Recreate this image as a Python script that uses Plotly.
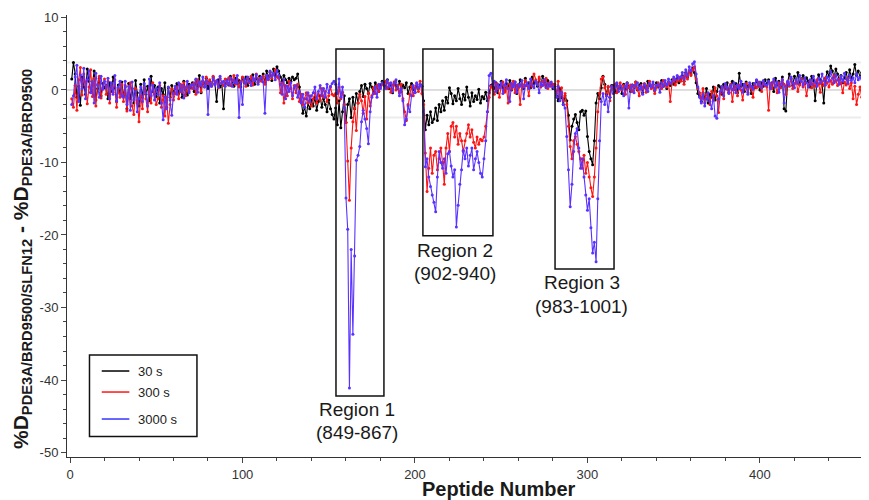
import plotly.graph_objects as go

# ---------------- data ----------------
SERIES_NAMES = ["30 s", "300 s", "3000 s"]
SERIES_COLORS = ["#000000", "#ff1414", "#5a32ff"]
LEGEND_COLORS = ["#000000", "#ff1414", "#3535ff"]

# first peptide number of each consecutive data segment
SEGMENT_STARTS = [1, 154, 182, 204, 245, 281, 315, 354, 365, 377, 404]

d30 = [
    [1.5, 3.8, 2.2, -1.0, 0.5, -2.1, 1.8, 0.4, -0.6, 2.9,
     1.2, -0.3, 0.8, 2.6, -1.4, 0.2, 1.6, -0.8, 0.9, 0.3,
     0.6, -1.2, 1.0, -0.2, 1.8, 0.3, -1.6, 0.7, -0.5, 1.1,
     -0.8, 0.4, -2.6, 0.9, -1.2, 0.2, -1.8, 1.3, -0.4, -2.2,
     0.8, -1.0, 1.4, -0.6, 0.5, -1.5, 1.9, -0.2, 0.6, -0.9,
     0.4, -1.8, 0.2, -0.6, 1.0, -2.4, 0.3, -1.0, 0.6, -0.3,
     0.2, 0.9, -0.5, 0.6, -1.0, 1.2, 0.0, -0.7, 0.8, 0.3,
     1.0, -0.2, 1.4, 0.5, 2.0, -0.4, 1.2, 0.8, 1.6, 0.2,
     1.2, 0.6, 1.8, 0.9, -1.6, 1.4, 0.4, 1.0, -2.6, 0.8,
     1.4, 0.7, 1.9, 1.1, 0.5, 1.6, 0.9, 1.3, 0.4, 1.7,
     1.0, 1.8, 0.6, 1.5, 1.2, 2.1, 0.8, 1.6, 1.1, 1.9,
     1.5, 2.2, 1.0, 2.6, 1.8, 2.4, 1.3, 2.9, 2.0, 3.2,
     2.6, 1.8, 1.2, 2.0, 1.4, 1.0, 1.6, 1.2, 1.8, 1.4,
     1.6, 2.2, 0.4, -1.6, -3.2, -2.4, -3.6, -1.8, -2.6, -1.4,
     -2.2, -1.0, -2.8, -1.6, -0.8, -2.4, -1.2, -2.0, -3.0, -1.4, -2.6, -3.4, -4.0],
    [-2.5, -4.8, -1.5, -5.2, -3.0, -0.8, -4.5, -2.0, -1.2, -3.8, -1.0, -2.6, -0.5, -1.8,
     -0.2, 0.6, -0.9, 0.8, 0.2, -0.5, 0.9, 0.4, -0.3, 1.0, 0.5, -0.2, 0.7, 1.2],
    [1.0, 0.4, 1.4, 0.2, 0.8, -0.4, 1.1, 0.6, 0.2, 1.2, -0.2, 0.7, 0.3, 1.0, -0.5,
     0.4, 0.9, 0.1, -0.3, 0.6, 0.2, 0.8],
    [0.5, -1.5, -5.5, -3.5, -4.8, -3.0, -4.5, -4.0, -2.5, -4.2, -2.0, -3.0, -1.5, -2.8,
     -1.0, -1.8, 0.3, -0.5, -1.9, -0.8, -1.5, 0.2, -1.2, -2.0, -0.6, -1.4, 0.4, -1.0,
     -2.2, -0.4, -1.6, -0.8, -1.3, 0.1, -1.8, -0.9, -1.2, -0.3, -1.5, -0.4, 0.6],
    [0.8, 0.2, 1.0, -0.4, 0.6, 1.2, 0.3, -0.2, 0.9, 0.5, 1.3, 0.0, 0.7, 1.1, -0.5,
     0.4, 1.4, 0.8, 0.2, 1.6, 0.6, 1.0, 0.3, 1.8, 0.9, 1.2, 0.5, 1.5, 0.7, 1.9,
     1.1, 0.4, 1.3, 0.6, 0.9, 0.2],
    [0.5, -0.8, -1.5, 0.2, -1.0, -2.0, -0.8, -1.5, -3.5, -6.9, -5.0, -4.0, -3.4, -4.5,
     -5.5, -3.0, -2.8, -3.5, -2.9, -6.4, -8.5, -9.5, -10.3, -7.0, -1.8, -0.5, -1.2, 0.3,
     1.9, 0.8, -0.6, 0.4, -1.0, 0.6],
    [0.6, -0.3, 0.9, 0.2, 0.5, -0.5, 0.8, 0.1, 1.0, 0.4, -0.2, 0.7, 0.3, 1.1, 0.0,
     0.6, 0.9, -0.4, 0.5, 0.2, 1.2, 0.6, 0.3, 0.8, -0.1, 1.0, 0.4, 0.7, 1.3, 0.5,
     0.9, 0.2, 1.1, 0.6, 1.4, 0.8, 1.2, 1.6, 1.0],
    [1.4, 2.0, 1.2, 2.4, 1.8, 2.6, 2.2, 3.0, 2.4, 1.0, -0.5],
    [-0.8, -1.6, -0.4, -1.2, 0.2, -1.8, -0.6, -1.0, 0.4, -1.4, -0.2, 0.6],
    [0.4, -0.6, 0.8, 0.2, 1.0, -0.3, 0.6, 1.2, 0.1, 0.9, -0.4, 2.3, 0.5, 0.8, -0.2,
     1.1, 0.4, 0.7, -0.5, 0.9, 0.3, 1.3, 0.6, 0.0, 1.0, 0.5, 1.4],
    [0.8, 1.4, 0.3, 1.0, -0.2, 1.6, 0.7, 1.2, 0.4, 1.8, -2.6, -2.9, 1.0, 2.2, 1.5,
     0.6, 1.9, 1.1, 2.4, 0.8, 1.5, 2.0, 0.9, 1.7, 1.2, 0.4, 1.9, 1.3, -1.5, 1.0,
     2.1, 1.4, 0.8, -1.8, 1.6, 2.5, 1.9, 3.3, 2.6, 1.8, 2.9, 2.2, 1.4, 2.0, 1.0,
     1.7, 2.4, 1.3, 2.8, 1.6, 2.2, 3.5, 2.0, 2.6, 1.8, 2.4, 1.9],
]

d300 = [
    [-1.2, -2.4, 0.6, -2.8, 1.4, 3.1, -0.7, 2.2, 1.1, -1.9,
     0.4, 2.8, -0.9, 1.6, -2.2, 0.8, 1.9, -1.1, 0.3, 1.5,
     -0.6, 1.2, -1.8, 0.5, -0.3, 1.4, -2.4, 0.2, -1.0, 0.8,
     -1.6, 0.6, -2.9, -0.4, 1.0, -2.2, -3.4, 0.2, -1.5, -4.4,
     -0.8, -2.6, 0.4, -1.2, -3.0, 0.3, -1.8, 1.0, -0.6, -2.0,
     -1.2, 0.6, -2.4, -0.8, -3.6, -1.0, -4.6, -2.0, 0.2, -1.4,
     -0.5, 0.4, -1.2, 0.8, -0.3, 1.0, -0.8, 0.5, -0.2, 0.7,
     0.2, 1.0, -0.6, 1.4, 0.6, -0.2, 1.2, 0.4, 1.8, 0.9,
     1.4, 0.5, 1.9, 0.8, 1.2, 0.3, 1.6, 1.0, 0.6, 1.5,
     0.9, 1.7, 0.6, 1.3, 2.0, 0.8, 1.5, 0.4, 1.2, 1.8,
     1.1, 0.5, 1.6, 1.0, 1.9, 0.7, 1.4, 2.2, 1.0, 1.6,
     1.2, 1.9, 0.8, 2.0, 1.4, 2.5, 1.6, 2.2, 2.8, 1.8,
     1.6, -0.4, 1.0, -1.8, 0.6, -0.8, 1.2, 0.2, -1.2, 0.6,
     -0.4, 0.8, -1.6, -0.6, -2.0, -1.2, -0.4, -1.8, -0.8, -2.2,
     -1.2, -0.4, -1.8, -0.6, -1.4, 0.2, -1.0, -0.2, -1.6, -0.8, 0.4, -0.6, -0.8],
    [-0.5, -1.8, 0.4, -1.2, -0.3, -2.0, -4.5, -9.8, -15.2, -8.0, -4.4, -2.5, -5.6, -1.8,
     -0.6, -1.5, -3.2, -0.9, -4.0, -0.4, -2.2, -0.8, 0.3, -0.5, 0.6, -0.2, 0.4, 0.8],
    [0.6, 1.2, 0.2, 0.9, -0.3, 0.7, 1.1, 0.0, 0.6, -0.4, 0.8, -1.2, -3.0, -4.2, -2.0,
     -0.6, 0.5, -0.8, 0.3, 0.9, -0.2, 1.2],
    [-0.5, -2.0, -8.7, -14.0, -10.8, -8.0, -11.5, -9.0, -8.5, -11.0, -9.5, -8.0, -10.0,
     -13.0, -8.0, -6.0, -8.5, -5.0, -4.5, -6.5, -5.0, -7.5, -6.0, -7.0, -8.5, -7.0,
     -6.0, -4.8, -6.5, -5.5, -7.2, -8.0, -6.5, -7.5, -6.8, -7.0, -6.5, -5.0, -3.0,
     -1.0, 0.5],
    [0.3, -0.6, 0.9, 0.2, -1.0, 0.6, 1.1, -0.3, 0.5, -1.8, 0.8, 0.1, 1.2, -0.4, 0.7,
     0.3, -2.0, 0.9, 0.4, 1.3, 0.6, -0.8, 1.0, 0.5, 2.2, 1.4, 0.8, 1.8, 0.4, 1.2,
     0.7, 1.6, 0.2, 1.0, 0.5, 0.8],
    [0.8, -0.5, 1.2, -1.0, 0.3, -1.5, -0.5, -2.0, -5.0, -7.8, -9.5, -7.0, -6.4, -7.5,
     -8.5, -9.5, -10.8, -9.0, -11.5, -10.0, -12.0, -13.5, -14.7, -12.0, -8.0, -3.0,
     -0.5, 1.5, 1.8, 0.3, -0.8, 0.5, -1.5, 0.4],
    [0.2, 0.8, -0.4, 0.5, 1.0, 0.0, 0.6, -0.6, 0.9, 0.3, 0.7, -0.2, 0.4, 1.1, 0.1,
     -0.8, 0.6, 0.3, 0.9, -0.3, 0.5, 1.2, 0.2, 0.7, -0.5, 0.4, 1.0, 0.6, 0.2, 1.3,
     0.8, 0.4, 1.1, -1.6, 0.9, 1.5, 0.7, 1.2, 1.8],
    [1.2, 1.8, 0.8, 2.2, 1.5, 2.6, 2.0, 2.8, 3.2, 1.5, 0.2],
    [-0.4, -1.2, 0.2, -1.8, -0.6, -1.0, -2.0, -0.2, -1.4, 0.3, -0.8, -3.1],
    [-0.5, 0.3, -1.2, 0.6, 0.1, -0.4, 0.8, -1.6, 0.2, 0.5, -0.8, 0.7, 0.0, -1.4, 0.4,
     0.9, -0.3, 0.6, 0.2, -1.0, 0.8, 0.3, 1.1, 0.5, -0.2, 0.9, 0.6],
    [0.4, -2.8, 0.9, 0.2, 1.2, 0.6, -0.4, 1.0, 0.3, 1.4, 0.8, -0.6, 1.1, 0.5, 1.6,
     0.2, 0.9, 1.3, -0.2, 0.7, 1.5, 0.4, 1.0, -0.8, 0.6, 1.2, 0.3, 0.9, 0.5, 1.4,
     0.8, -0.3, 1.1, 0.6, 1.7, 1.0, 0.4, 1.3, 0.8, 2.0, 1.2, 0.6, 1.5, 0.9, -0.4,
     1.1, 0.7, 1.6, 0.2, 1.0, -1.2, 0.5, -2.0, -0.6, 0.4, -1.0, 0.6],
]

d3000 = [
    [-2.0, -0.8, 1.8, 3.4, -1.6, 2.1, 0.2, 3.0, -1.2, 1.4,
     2.6, -0.4, 1.1, -1.8, 2.3, 0.6, -1.0, 1.9, 0.1, 1.2,
     0.3, 1.6, -1.2, 1.0, -0.6, 2.0, -1.5, 0.4, 1.2, -0.8,
     -1.0, 1.2, -2.0, 0.5, -2.8, 1.1, -1.4, -0.2, -3.0, -1.2,
     0.4, -1.6, 0.9, -0.4, -2.2, 1.5, -0.8, 0.6, -1.4, 0.2,
     -0.6, 1.0, -1.8, -4.1, -1.0, -2.6, 0.4, -1.4, -3.5, -0.5,
     0.5, -0.6, 1.0, -0.2, 0.7, -1.1, 0.3, 1.2, -0.4, 0.6,
     0.8, 0.2, 1.5, -0.3, 1.1, 0.6, 1.8, 0.4, 1.3, -3.4,
     1.0, 0.5, 1.6, 0.7, 1.3, 0.4, 1.9, 0.9, 1.2, 0.5,
     1.3, 0.8, 1.7, 0.5, 1.4, 1.0, 2.0, -3.8, 1.1, -2.0,
     1.5, 0.9, 1.8, 1.2, 0.6, 1.7, 1.3, 2.1, 0.8, 1.4,
     1.8, 1.1, -3.2, 2.0, 1.5, 2.6, 1.9, 2.3, 1.4, 2.7,
     2.0, 0.8, -0.6, 1.4, -1.2, 0.5, -0.2, 1.0, -0.8, 0.3,
     0.6, -1.0, -0.2, -1.8, -0.6, -2.4, -1.2, -0.4, -1.6, -0.8,
     -0.4, 0.4, -1.2, -0.2, 0.6, -0.8, 0.2, -1.0, 0.8, -0.4, 0.5, 0.9, 1.2],
    [0.8, -0.5, 1.5, -1.0, 0.4, -2.5, -14.9, -19.2, -41.1, -22.0, -33.7, -22.9, -9.7,
     -9.0, -7.8, -4.4, -2.8, -4.0, -5.3, -7.4, -3.0, -1.0, -0.5, 0.4, -1.0, 0.8, 0.2, 1.0],
    [0.8, 0.2, 1.3, 0.5, 1.0, -0.2, 0.9, 1.4, 0.3, -0.8, 0.2, -1.5, -4.8, -4.0, -2.2,
     -3.0, -0.8, 0.6, -0.4, 1.0, 0.3, 0.8],
    [0.5, -3.0, -10.6, -9.5, -12.0, -13.3, -14.5, -15.5, -16.8, -12.0, -8.5, -10.0,
     -10.8, -9.5, -11.5, -8.8, -8.5, -10.5, -12.0, -11.0, -18.9, -15.9, -13.0, -11.0,
     -8.3, -9.5, -8.0, -10.5, -9.0, -8.0, -11.0, -9.5, -8.5, -10.0, -11.5, -12.0, -9.5,
     -7.0, -3.0, 2.0, 2.3],
    [0.6, 1.2, -0.2, 0.8, 0.3, 1.0, -0.5, 0.7, 1.4, 0.2, -1.6, 0.9, 0.4, 1.1, -0.3,
     0.8, 0.5, 1.3, -1.2, 0.6, 1.0, 0.2, 1.5, 0.7, 0.3, 1.2, 0.8, -0.4, 1.0, 0.6,
     1.4, 0.3, 0.9, 0.5, 1.1, 0.4],
    [0.2, -1.0, 0.5, -1.5, -0.3, -2.0, -2.5, -6.4, -11.0, -16.1, -13.0, -8.5, -6.0, -5.3,
     -8.0, -10.8, -9.5, -12.0, -14.5, -16.6, -15.0, -19.0, -22.5, -21.0, -23.7, -15.0,
     -7.0, -1.6, -0.5, -2.0, -0.8, -3.0, -1.0, 0.5],
    [-0.5, 0.4, 1.0, -0.2, 0.6, 0.2, -0.8, 0.5, 0.9, -2.5, 0.3, 0.7, -0.4, 0.6, 1.0,
     0.1, 0.5, -0.6, 0.8, 0.3, -0.2, 0.9, 0.4, 1.1, 0.0, 0.6, 0.8, -0.3, 1.0, 0.5,
     1.3, 0.7, 1.5, 0.9, 1.2, 1.8, 1.4, 2.0, 1.6],
    [1.8, 2.4, 1.5, 2.8, 2.0, 3.2, 2.6, 3.6, 3.9, 2.2, 0.4],
    [-1.0, -1.8, -0.6, -2.2, -1.2, -0.4, -1.6, -2.6, -0.8, -3.6, -3.9, -1.2],
    [-0.2, 0.5, -0.8, 0.9, 0.3, -0.5, 0.6, 0.0, 1.0, -0.4, 0.7, 0.2, 1.2, -0.3, 0.8,
     0.4, -0.6, 1.0, 0.5, 0.1, 0.9, 1.4, 0.6, 1.1, 0.3, 1.3, 0.8],
    [0.6, 1.2, 0.2, 0.9, 1.5, 0.4, 1.1, -0.3, 0.8, 1.4, -1.8, 0.5, 1.2, 0.7, 1.8,
     1.0, 0.3, 1.5, 0.9, 2.0, 1.2, 0.6, 1.7, 1.0, 0.4, 1.4, 0.8, 1.9, 1.1, 0.5,
     1.6, 1.0, 2.2, 1.3, 0.7, 1.8, 1.2, 2.5, 1.6, 1.0, 2.1, 1.4, 0.8, 1.9, 1.2,
     2.3, 1.5, 0.9, 2.0, 1.3, 1.7, 1.0, 2.2, 1.4, 1.8, 1.5, 2.0],
]

THRESHOLD = 3.8
Y_TICKS = [10, 0, -10, -20, -30, -40, -50]
Y_TICK_TEXT = ["10", "0", "-10", "-20", "-30", "-40", "-50"]
X_TICKS = [0, 100, 200, 300, 400]
X_TICK_TEXT = ["0", "100", "200", "300", "400"]

# region boxes: (x0, x1, y_bottom, y_top, label line 1, label line 2)
REGIONS = [
    (154.2, 182.0, -42.2, 5.65, "Region 1", "(849-867)"),
    (204.6, 245.2, -20.1, 5.65, "Region 2", "(902-940)"),
    (281.2, 315.4, -24.7, 5.65, "Region 3", "(983-1001)"),
]
REGION_LABEL_POS = [(166.4, -44.1, -47.3), (223.2, -22.1, -25.3), (296.8, -26.6, -29.8)]

FONT = "Liberation Sans, Arial, Helvetica, sans-serif"


def expand(segments):
    xs, ys = [], []
    for start, seg in zip(SEGMENT_STARTS, segments):
        xs.extend(range(start, start + len(seg)))
        ys.extend(seg)
    return xs, ys


fig = go.Figure()

for name, color, segs in zip(SERIES_NAMES, SERIES_COLORS, [d30, d300, d3000]):
    xs, ys = expand(segs)
    fig.add_trace(go.Scatter(
        x=xs, y=ys, mode="lines+markers", name=name,
        line=dict(color=color, width=1.1),
        marker=dict(color=color, size=3),
        showlegend=False,
    ))

shapes = []
# zero line and threshold lines
shapes.append(dict(type="line", xref="paper", x0=0, x1=1, yref="y", y0=0, y1=0,
                   line=dict(color="#bdbdbd", width=1), layer="below"))
for t in (THRESHOLD, -THRESHOLD):
    shapes.append(dict(type="line", xref="paper", x0=0, x1=1, yref="y", y0=t, y1=t,
                       line=dict(color="#ececec", width=2), layer="below"))

annotations = []
for (x0, x1, yb, yt, l1, l2), (lx, ly1, ly2) in zip(REGIONS, REGION_LABEL_POS):
    shapes.append(dict(type="rect", xref="x", yref="y", x0=x0, x1=x1, y0=yb, y1=yt,
                       line=dict(color="#111111", width=1.5), fillcolor="rgba(0,0,0,0)"))
    annotations.append(dict(x=lx, y=ly1, xref="x", yref="y", text=l1, showarrow=False,
                            font=dict(size=19, color="#1a1a1a", family=FONT)))
    annotations.append(dict(x=lx, y=ly2, xref="x", yref="y", text=l2, showarrow=False,
                            font=dict(size=19, color="#1a1a1a", family=FONT)))

# legend box (drawn manually)
LEG_BOX = (11.3, 73.6, -47.8, -36.55)
LEG_ROWS = [-38.76, -41.66, -45.38]
shapes.append(dict(type="rect", xref="x", yref="y", x0=LEG_BOX[0], x1=LEG_BOX[1],
                   y0=LEG_BOX[2], y1=LEG_BOX[3], line=dict(color="#111111", width=1.5),
                   fillcolor="white"))
for name, color, ry in zip(SERIES_NAMES, LEGEND_COLORS, LEG_ROWS):
    shapes.append(dict(type="line", xref="x", yref="y", x0=18.4, x1=34.4, y0=ry, y1=ry,
                       line=dict(color=color, width=1.5)))
    annotations.append(dict(x=38.3, y=ry, xref="x", yref="y", text=name, showarrow=False,
                            xanchor="left", yanchor="middle",
                            font=dict(size=13, color="#222222", family=FONT)))

# axis titles (paper coords relative to the plot area: left 67px, width 808, top 15, height 442)
PW = 808.0
annotations.append(dict(
    x=(22 - 67) / PW, y=(457 - 259) / 442, xref="paper", yref="paper",
    text="%D<sub>PDE3A/BRD9500/SLFN12</sub> - %D<sub>PDE3A/BRD9500</sub>",
    textangle=-90, showarrow=False, xanchor="center", yanchor="middle",
    font=dict(size=21, color="#1a1a1a", family="Liberation Sans, Arial", weight="bold")))
annotations.append(dict(
    x=(499 - 67) / PW, y=(457 - 489) / 442, xref="paper", yref="paper",
    text="<b>Peptide Number</b>", showarrow=False, xanchor="center", yanchor="middle",
    font=dict(size=20, color="#1a1a1a", family=FONT)))

axis_common = dict(showline=True, linecolor="#333333", linewidth=1, ticks="outside",
                   ticklen=5, tickcolor="#444444", showgrid=False, zeroline=False,
                   tickfont=dict(size=13, color="#333333", family=FONT))

fig.update_layout(
    width=869, height=500,
    margin=dict(l=59, r=2, t=7, b=51),
    paper_bgcolor="white", plot_bgcolor="white",
    font=dict(family=FONT),
    shapes=shapes, annotations=annotations,
    showlegend=False,
    xaxis=dict(range=[-1.74, 466.7], tickvals=X_TICKS, ticktext=X_TICK_TEXT,
               minor=dict(dtick=20, ticks="outside", ticklen=3, tickcolor="#444444"),
               **axis_common),
    yaxis=dict(range=[-50.62, 10.34], tickvals=Y_TICKS, ticktext=Y_TICK_TEXT,
               minor=dict(dtick=2, ticks="outside", ticklen=3, tickcolor="#444444"),
               **axis_common),
)

fig.write_html("out.html")
